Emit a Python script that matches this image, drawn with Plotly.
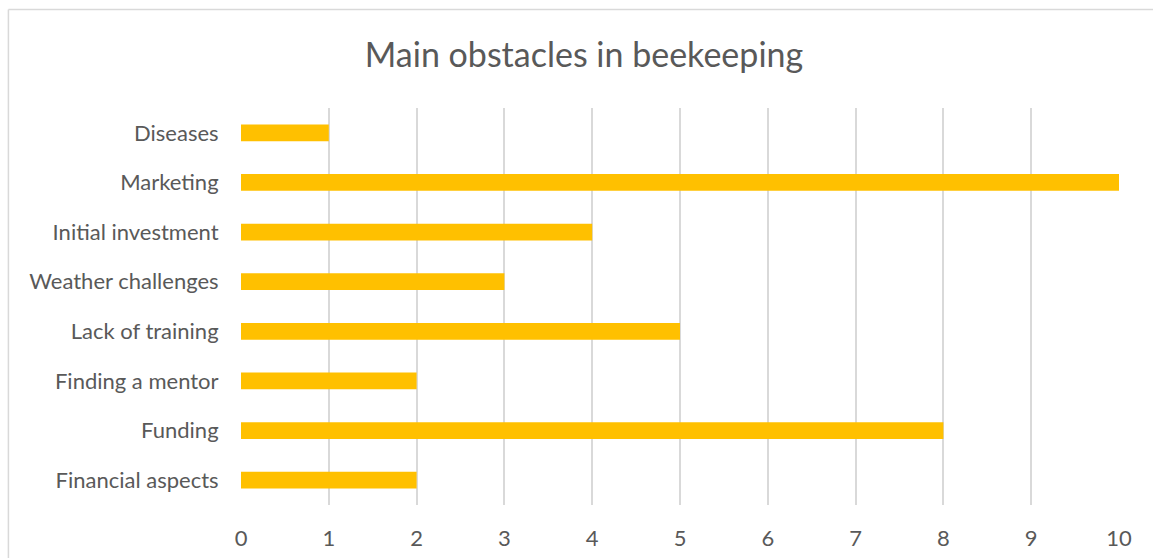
import plotly.graph_objects as go

categories = ["Financial aspects", "Funding", "Finding a mentor", "Lack of training",
              "Weather challenges", "Initial investment", "Marketing", "Diseases"]
values = [2, 8, 2, 5, 3, 4, 10, 1]
x_ticks = list(range(0, 11))

W, H = 1153, 558
L, R = 241, 1118.7
T, B = 108, 505
pw, ph = R - L, B - T

def px_x(p):
    return (p - L) / pw

def px_y(p):
    return (B - p) / ph

text_col = "#595959"
font_fam = "Lato, 'Open Sans', sans-serif"

fig = go.Figure(go.Bar(
    x=values, y=categories, orientation="h",
    marker=dict(color="#FFC000", line=dict(width=0)),
    width=0.34,
))

fig.update_layout(
    width=W, height=H,
    margin=dict(l=L, r=W - R, t=T, b=H - B, pad=0),
    plot_bgcolor="white", paper_bgcolor="white",
    showlegend=False,
    title=dict(text="Main obstacles in beekeeping", x=584 / W, xanchor="center",
               y=1 - 55 / H, yanchor="middle", xref="container", yref="container",
               font=dict(size=34, color=text_col, family=font_fam)),
    xaxis=dict(range=[0, 10], tickvals=x_ticks, showgrid=True, gridcolor="#D9D9D9",
               gridwidth=1.8, zeroline=False, showline=False, automargin=False,
               ticks="outside", ticklen=14, tickcolor="rgba(0,0,0,0)",
               tickfont=dict(size=22, color=text_col, family=font_fam)),
    yaxis=dict(range=[-0.5, 7.5], showgrid=False, zeroline=False, showline=False,
               automargin=False,
               ticks="outside", ticklen=17, tickcolor="rgba(0,0,0,0)",
               tickfont=dict(size=22, color=text_col, family=font_fam)),
)

border = dict(color="#D9D9D9", width=1.5)
fig.add_shape(type="line", xref="paper", yref="paper",
              x0=px_x(8.5), x1=px_x(8.5), y0=px_y(9.5), y1=px_y(700),
              line=border, layer="below")
fig.add_shape(type="line", xref="paper", yref="paper",
              x0=px_x(8.5), x1=px_x(1300), y0=px_y(9.5), y1=px_y(9.5),
              line=border, layer="below")

fig.write_html(
    "out.html",
    config={"displayModeBar": False},
    post_script="document.body.style.margin='0';document.body.style.overflow='hidden';",
)
